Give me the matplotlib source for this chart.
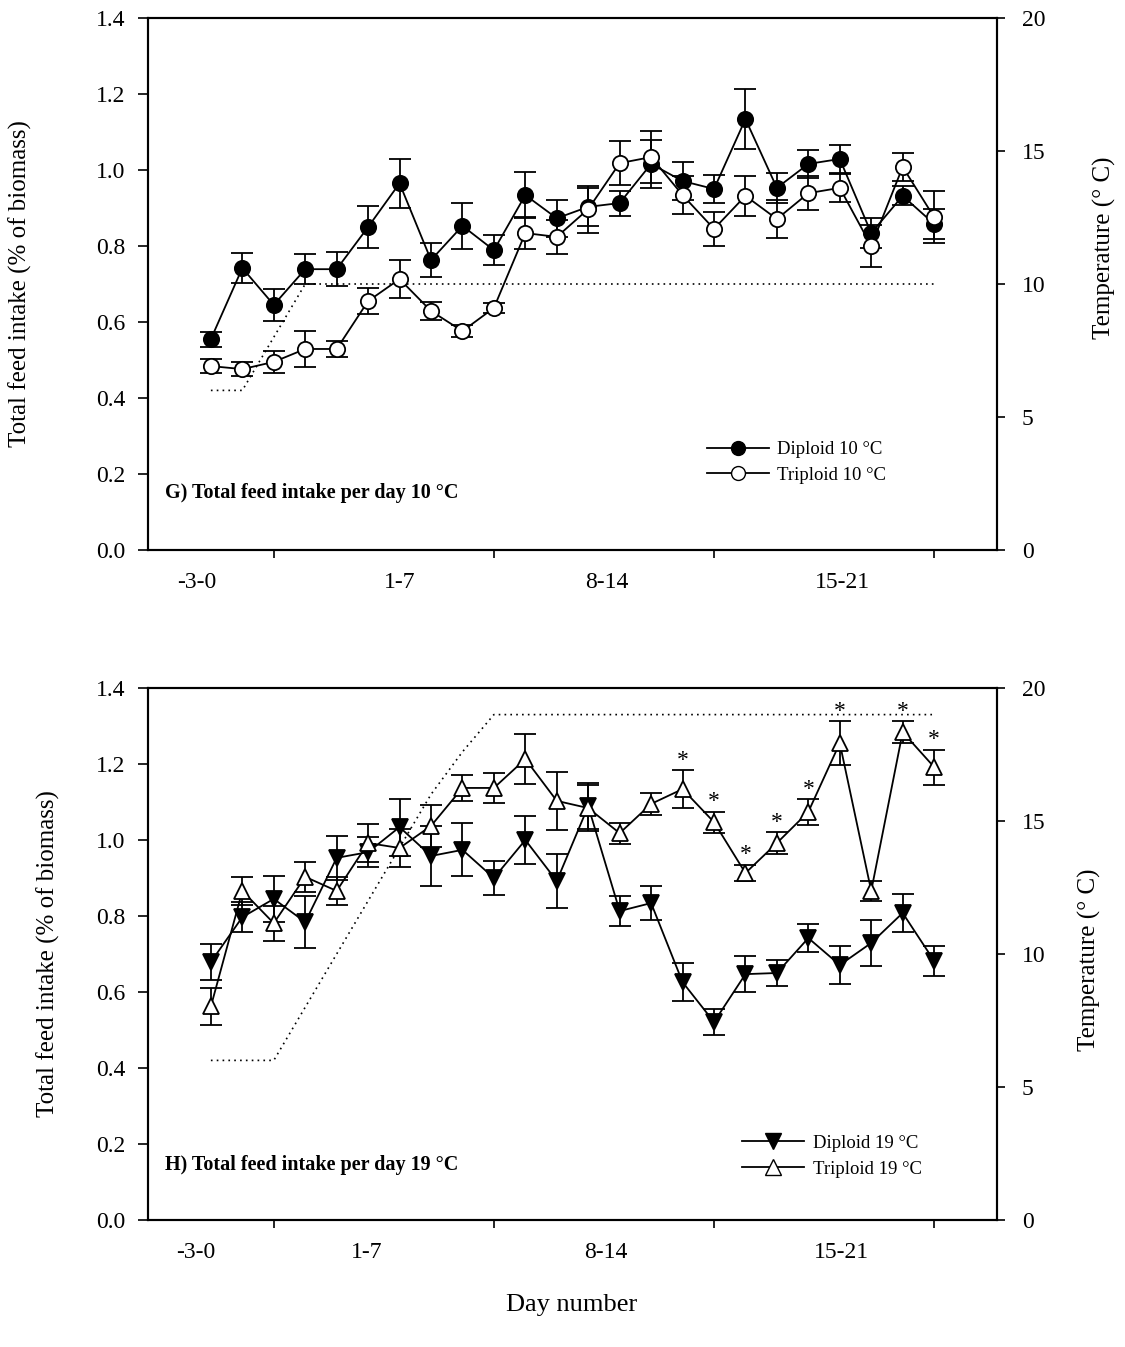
import matplotlib
matplotlib.use("Agg")
import matplotlib.pyplot as plt
from matplotlib.lines import Line2D
import numpy as np

plt.rcParams['font.family'] = ['Liberation Serif', 'DejaVu Serif']
plt.rcParams['xtick.labelsize'] = 17
plt.rcParams['ytick.labelsize'] = 17

# day index 0..23, week groups on the x axis
days = np.arange(24)
week_edges = [2, 9, 16, 23]
week_labels = ['-3-0', '1-7', '8-14', '15-21']

# panel G, 10 degC
dip10 = [0.555, 0.742, 0.645, 0.739, 0.739, 0.850, 0.965, 0.763, 0.853, 0.789,
         0.934, 0.873, 0.903, 0.913, 1.016, 0.971, 0.950, 1.134, 0.953, 1.016,
         1.029, 0.834, 0.932, 0.858]
dip10_err = [0.020, 0.040, 0.042, 0.040, 0.045, 0.055, 0.065, 0.044, 0.060, 0.040,
             0.060, 0.048, 0.050, 0.033, 0.063, 0.050, 0.036, 0.080, 0.040, 0.037,
             0.037, 0.040, 0.025, 0.040]
trip10 = [0.484, 0.476, 0.495, 0.529, 0.529, 0.655, 0.713, 0.629, 0.576, 0.637,
          0.834, 0.824, 0.897, 1.018, 1.034, 0.934, 0.845, 0.932, 0.871, 0.939,
          0.953, 0.800, 1.008, 0.876]
trip10_err = [0.018, 0.018, 0.029, 0.048, 0.021, 0.035, 0.050, 0.023, 0.016, 0.012,
              0.042, 0.045, 0.062, 0.058, 0.068, 0.050, 0.045, 0.053, 0.050, 0.044,
              0.037, 0.055, 0.037, 0.068]
temp10 = [6, 6, 8] + [10] * 21

# panel H, 19 degC
dip19 = [0.679, 0.797, 0.845, 0.784, 0.953, 0.968, 1.034, 0.958, 0.974, 0.900,
         1.000, 0.892, 1.089, 0.813, 0.834, 0.626, 0.521, 0.647, 0.650, 0.742,
         0.671, 0.729, 0.808, 0.682]
dip19_err = [0.047, 0.040, 0.060, 0.068, 0.057, 0.040, 0.075, 0.080, 0.070, 0.046,
             0.064, 0.071, 0.060, 0.040, 0.045, 0.050, 0.035, 0.047, 0.034, 0.038,
             0.050, 0.060, 0.050, 0.040]
trip19 = [0.562, 0.866, 0.781, 0.903, 0.866, 0.992, 0.979, 1.037, 1.137, 1.137,
          1.213, 1.103, 1.084, 1.018, 1.095, 1.134, 1.047, 0.913, 0.992, 1.074,
          1.255, 0.866, 1.284, 1.192]
trip19_err = [0.048, 0.037, 0.046, 0.040, 0.037, 0.050, 0.050, 0.055, 0.035, 0.040,
              0.065, 0.076, 0.060, 0.028, 0.030, 0.049, 0.028, 0.022, 0.028, 0.034,
              0.057, 0.027, 0.029, 0.046]
temp19 = [6, 6, 6, 8, 10, 12, 14, 16, 17.6] + [19] * 15
sig19 = [15, 16, 17, 18, 19, 20, 22, 23]

marker_size = {'o': 11, 'v': 12, '^': 12}


def draw_panel(ax, dip, dip_err, trip, trip_err, temp, dmark, tmark, names,
               title, label_pos, ylab_x, tlab_pos, leg_anchor, sig=()):
    tw = ax.twinx()
    tw.plot(days, temp, color='black', lw=1.2, ls=(0, (1, 2.5)))
    tw.set_ylim(0, 20)
    tw.set_yticks([0, 5, 10, 15, 20])
    tw.tick_params(axis='y', direction='out', length=6, width=1.2, pad=12)
    tw.set_ylabel('Temperature (° C)', fontsize=18)
    tw.yaxis.set_label_coords(tlab_pos[0], tlab_pos[1])
    ax.set_zorder(tw.get_zorder() + 1)
    ax.patch.set_visible(False)

    kw = dict(color='black', lw=1.3, elinewidth=1.3, capsize=8, capthick=1.3,
              mec='black', mew=1.3)
    ax.errorbar(days, dip, yerr=dip_err, marker=dmark, mfc='black',
                ms=marker_size[dmark], **kw)
    ax.errorbar(days, trip, yerr=trip_err, marker=tmark, mfc='white',
                ms=marker_size[tmark], **kw)
    for i in sig:
        ax.annotate('*', (days[i], trip[i] + trip_err[i]), xytext=(0, 7),
                    textcoords='offset points', ha='center', va='center',
                    fontsize=17)

    ax.set_xlim(-2, 25)
    ax.set_ylim(0, 1.4)
    ax.set_yticks(np.arange(0, 1.41, 0.2))
    ax.set_yticklabels(['%.1f' % v for v in np.arange(0, 1.41, 0.2)])
    ax.tick_params(axis='y', direction='out', length=7, width=1.2, pad=9)
    ax.set_xticks(week_edges, minor=True)
    ax.set_xticks(label_pos)
    ax.set_xticklabels(week_labels)
    ax.tick_params(axis='x', which='major', length=0, pad=16)
    ax.tick_params(axis='x', which='minor', direction='out', length=6, width=1.2)
    ax.set_ylabel('Total feed intake (% of biomass)', fontsize=18)
    ax.yaxis.set_label_coords(ylab_x, 0.5)
    for a in (ax, tw):
        for s in a.spines.values():
            s.set_linewidth(1.5)

    ax.text(0.02, title[1], title[0], transform=ax.transAxes, fontsize=14.5,
            fontweight='bold', va='center', ha='left')

    handles = [Line2D([], [], color='black', lw=1.3, marker=dmark, mfc='black',
                      mec='black', ms=marker_size[dmark] - 1),
               Line2D([], [], color='black', lw=1.3, marker=tmark, mfc='white',
                      mec='black', ms=marker_size[tmark] - 1)]
    ax.legend(handles, names, loc='upper left', bbox_to_anchor=leg_anchor,
              frameon=False, fontsize=13.5, handlelength=3.3, handletextpad=0.45,
              labelspacing=0.45, borderpad=0, borderaxespad=0)


fig = plt.figure(figsize=(11.25, 13.47), dpi=100)
ax1 = fig.add_axes([148 / 1125, 1 - 550 / 1347, 849 / 1125, 532 / 1347])
ax2 = fig.add_axes([148 / 1125, 1 - 1220 / 1347, 849 / 1125, 532 / 1347])

draw_panel(ax1, dip10, dip10_err, trip10, trip10_err, temp10, 'o', 'o',
           ['Diploid 10 °C', 'Triploid 10 °C'],
           ('G) Total feed intake per day 10 °C', 0.107),
           [-0.44, 6.0, 12.6, 20.1], -0.137, (1.113, 0.568), (0.658, 0.205))
draw_panel(ax2, dip19, dip19_err, trip19, trip19_err, temp19, 'v', '^',
           ['Diploid 19 °C', 'Triploid 19 °C'],
           ('H) Total feed intake per day 19 °C', 0.103),
           [-0.48, 4.96, 12.57, 20.05], -0.104, (1.095, 0.489), (0.70, 0.16),
           sig=sig19)

fig.text(572 / 1125, 1 - 1305 / 1347, 'Day number', ha='center', va='center',
         fontsize=19)

fig.savefig('out.png', dpi=100)
